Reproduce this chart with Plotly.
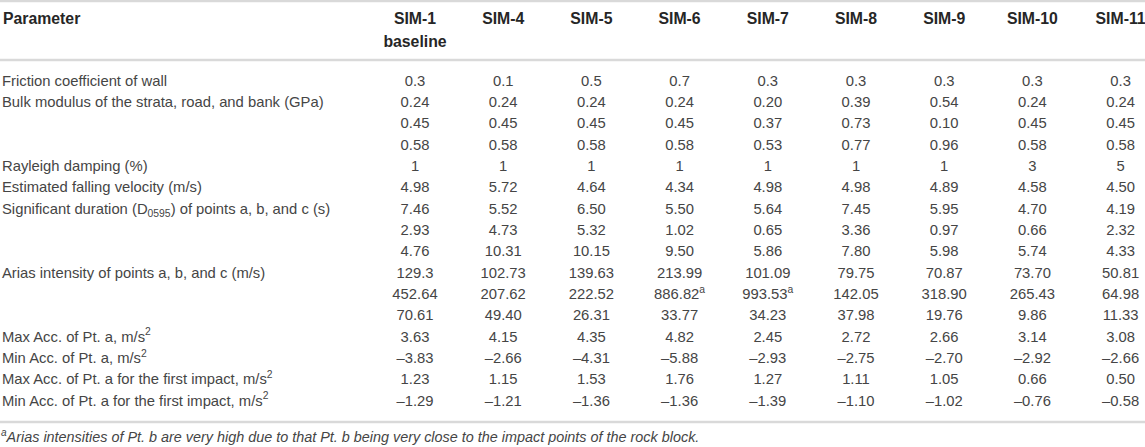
import plotly.graph_objects as go

# Table content
parameters = [
    "Friction coefficient of wall",
    "Bulk modulus of the strata, road, and bank (GPa)",
    "",
    "",
    "Rayleigh damping (%)",
    "Estimated falling velocity (m/s)",
    "Significant duration (D<sub>0595</sub>) of points a, b, and c (s)",
    "",
    "",
    "Arias intensity of points a, b, and c (m/s)",
    "",
    "",
    "Max Acc. of Pt. a, m/s<sup>2</sup>",
    "Min Acc. of Pt. a, m/s<sup>2</sup>",
    "Max Acc. of Pt. a for the first impact, m/s<sup>2</sup>",
    "Min Acc. of Pt. a for the first impact, m/s<sup>2</sup>",
]

sim_names = ["SIM-1", "SIM-4", "SIM-5", "SIM-6", "SIM-7", "SIM-8", "SIM-9", "SIM-10", "SIM-11"]
sim_notes = ["baseline", "", "", "", "", "", "", "", ""]

sim_1 = ["0.3", "0.24", "0.45", "0.58", "1", "4.98", "7.46", "2.93", "4.76",
         "129.3", "452.64", "70.61", "3.63", "–3.83", "1.23", "–1.29"]
sim_4 = ["0.1", "0.24", "0.45", "0.58", "1", "5.72", "5.52", "4.73", "10.31",
         "102.73", "207.62", "49.40", "4.15", "–2.66", "1.15", "–1.21"]
sim_5 = ["0.5", "0.24", "0.45", "0.58", "1", "4.64", "6.50", "5.32", "10.15",
         "139.63", "222.52", "26.31", "4.35", "–4.31", "1.53", "–1.36"]
sim_6 = ["0.7", "0.24", "0.45", "0.58", "1", "4.34", "5.50", "1.02", "9.50",
         "213.99", "886.82<sup>a</sup>", "33.77", "4.82", "–5.88", "1.76", "–1.36"]
sim_7 = ["0.3", "0.20", "0.37", "0.53", "1", "4.98", "5.64", "0.65", "5.86",
         "101.09", "993.53<sup>a</sup>", "34.23", "2.45", "–2.93", "1.27", "–1.39"]
sim_8 = ["0.3", "0.39", "0.73", "0.77", "1", "4.98", "7.45", "3.36", "7.80",
         "79.75", "142.05", "37.98", "2.72", "–2.75", "1.11", "–1.10"]
sim_9 = ["0.3", "0.54", "0.10", "0.96", "1", "4.89", "5.95", "0.97", "5.98",
         "70.87", "318.90", "19.76", "2.66", "–2.70", "1.05", "–1.02"]
sim_10 = ["0.3", "0.24", "0.45", "0.58", "3", "4.58", "4.70", "0.66", "5.74",
          "73.70", "265.43", "9.86", "3.14", "–2.92", "0.66", "–0.76"]
sim_11 = ["0.3", "0.24", "0.45", "0.58", "5", "4.50", "4.19", "2.32", "4.33",
          "50.81", "64.98", "11.33", "3.08", "–2.66", "0.50", "–0.58"]

columns = [sim_1, sim_4, sim_5, sim_6, sim_7, sim_8, sim_9, sim_10, sim_11]

footnote = ("<sup>a</sup>Arias intensities of Pt. b are very high due to that Pt. b "
            "being very close to the impact points of the rock block.")

# Layout in pixel units
W, H = 1145, 447
col_x0, col_step = 415, 88.2
row_y0, row_step = 82, 21.33
text_color = "#454545"
head_color = "#262626"
line_color = "#d9d9d9"
FONT = "Liberation Sans, Arial, sans-serif"
font_body = dict(family=FONT, size=14.8, color=text_color)
font_head = dict(family=FONT, size=15.8, color=head_color)

fig = go.Figure()

# header row
hx = [col_x0 + k * col_step for k in range(len(sim_names))]
fig.add_trace(go.Scatter(
    x=[3], y=[20], text=["<b>Parameter</b>"], mode="text",
    textposition="middle right", textfont=font_head, hoverinfo="skip"))
fig.add_trace(go.Scatter(
    x=hx, y=[20] * len(sim_names), text=["<b>%s</b>" % s for s in sim_names],
    mode="text", textposition="middle center", textfont=font_head, hoverinfo="skip"))
nx = [x for x, s in zip(hx, sim_notes) if s]
fig.add_trace(go.Scatter(
    x=nx, y=[43] * len(nx), text=["<b>%s</b>" % s for s in sim_notes if s],
    mode="text", textposition="middle center", textfont=font_head, hoverinfo="skip"))

# parameter names (skip the blank continuation rows)
py = [row_y0 + i * row_step for i, p in enumerate(parameters) if p]
fig.add_trace(go.Scatter(
    x=[2] * len(py), y=py, text=[p for p in parameters if p],
    mode="text", textposition="middle right", textfont=font_body, hoverinfo="skip"))

# values, one column per simulation
for k, col in enumerate(columns):
    fig.add_trace(go.Scatter(
        x=[col_x0 + k * col_step] * len(col),
        y=[row_y0 + i * row_step for i in range(len(col))],
        text=col, mode="text", textposition="middle center",
        textfont=font_body, hoverinfo="skip"))

# footnote
fig.add_trace(go.Scatter(
    x=[1], y=[438], text=["<i>" + footnote + "</i>"], mode="text",
    textposition="middle right",
    textfont=dict(family=FONT, size=14.4, color=text_color),
    hoverinfo="skip"))

# rule lines
for yy in [1, 60, 422]:
    fig.add_shape(type="line", x0=0, x1=W, y0=yy, y1=yy,
                  line=dict(color=line_color, width=2.5), layer="below")

fig.update_layout(
    width=W, height=H, margin=dict(l=0, r=0, t=0, b=0),
    paper_bgcolor="white", plot_bgcolor="white", showlegend=False,
    xaxis=dict(range=[0, W], visible=False, fixedrange=True),
    yaxis=dict(range=[H, 0], visible=False, fixedrange=True),
)

fig.write_html("out.html", config={"displayModeBar": False},
               post_script="document.body.style.margin='0';document.body.style.overflow='hidden';")
